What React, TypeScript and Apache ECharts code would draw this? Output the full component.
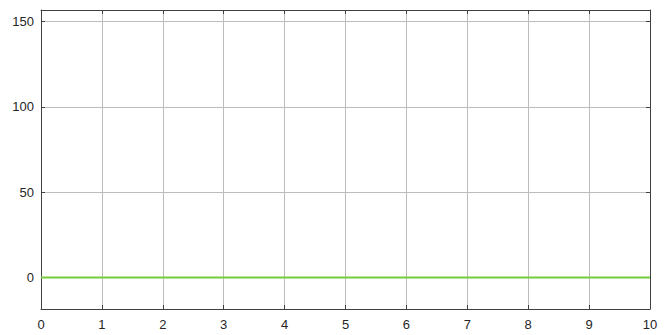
import React, { useEffect, useRef } from "react";
import * as echarts from "echarts";

const xTicks = [0, 1, 2, 3, 4, 5, 6, 7, 8, 9, 10];
const yTicks = [0, 50, 100, 150];
const timeValues = [0, 1, 2, 3, 4, 5, 6, 7, 8, 9, 10];
const signalValues = [0, 0, 0, 0, 0, 0, 0, 0, 0, 0, 0];

const Y_MIN = -18.4;
const Y_MAX = 156.8;

export default function App() {
  const ref = useRef<HTMLDivElement>(null);
  useEffect(() => {
    if (!ref.current) return;
    const chart = echarts.init(ref.current, null, { renderer: "svg" });
    const axisColor = "#404040";
    const gridColor = "#bcbcbc";
    const font = { color: "#262626", fontSize: 13, fontFamily: "Liberation Sans, Arial, sans-serif" };
    chart.setOption({
      animation: false,
      grid: { left: 41, top: 10, right: 18, bottom: 26, containLabel: false },
      xAxis: [
        {
          type: "value",
          min: 0,
          max: 10,
          interval: 1,
          axisLine: { show: true, onZero: false, lineStyle: { color: axisColor, width: 1 } },
          axisTick: { show: true, inside: true, length: 4, lineStyle: { color: axisColor } },
          axisLabel: { ...font, margin: 9, customValues: xTicks },
          splitLine: { show: true, lineStyle: { color: gridColor, width: 1 } },
        },
        {
          type: "value",
          position: "top",
          min: 0,
          max: 10,
          interval: 1,
          axisLine: { show: true, onZero: false, lineStyle: { color: axisColor, width: 1 } },
          axisTick: { show: true, inside: true, length: 4, lineStyle: { color: axisColor } },
          axisLabel: { show: false },
          splitLine: { show: false },
        },
      ],
      yAxis: [
        {
          type: "value",
          min: Y_MIN,
          max: Y_MAX,
          axisLine: { show: true, onZero: false, lineStyle: { color: axisColor, width: 1 } },
          axisTick: { show: true, inside: true, length: 4, customValues: yTicks, lineStyle: { color: axisColor } },
          axisLabel: { ...font, margin: 7, customValues: yTicks },
          splitLine: { show: true, lineStyle: { color: gridColor, width: 1 } },
        },
        {
          type: "value",
          position: "right",
          min: Y_MIN,
          max: Y_MAX,
          axisLine: { show: true, onZero: false, lineStyle: { color: axisColor, width: 1 } },
          axisTick: { show: true, inside: true, length: 4, customValues: yTicks, lineStyle: { color: axisColor } },
          axisLabel: { show: false, customValues: yTicks },
          splitLine: { show: false },
        },
      ],
      series: [
        {
          type: "line",
          data: timeValues.map((t, i) => [t, signalValues[i]]),
          showSymbol: false,
          lineStyle: { color: "#77cc3a", width: 2 },
          xAxisIndex: 0,
          yAxisIndex: 0,
        },
      ],
    });
    return () => chart.dispose();
  }, []);
  return <div ref={ref} style={{ width: 668, height: 335, position: "absolute", left: 0, top: 0, background: "#fff" }} />;
}
